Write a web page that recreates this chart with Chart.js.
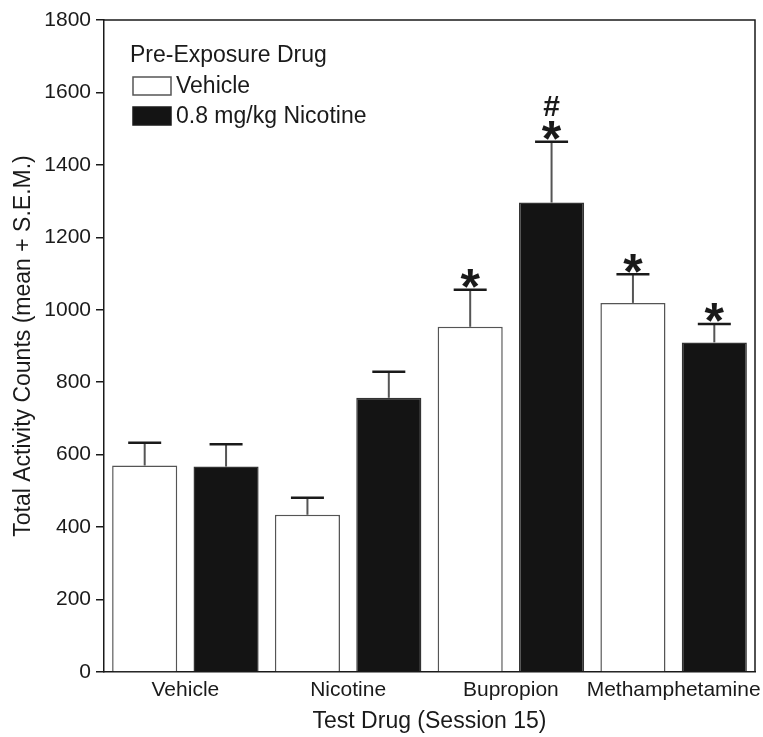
<!DOCTYPE html>
<html>
<head>
<meta charset="utf-8">
<script src="https://cdn.jsdelivr.net/npm/chart.js@4.4.0/dist/chart.umd.min.js"></script>
<style>
  html, body { margin: 0; padding: 0; background: #fff; }
  #wrap { width: 763px; height: 737px; }
</style>
</head>
<body>
<div id="wrap"><canvas id="chart"></canvas></div>
<script>
const CATEGORIES = ["Vehicle", "Nicotine", "Bupropion", "Methamphetamine"];
const SERIES_NAMES = ["Vehicle", "0.8 mg/kg Nicotine"];
const VEHICLE_MEAN = [570, 434, 953, 1019];
const VEHICLE_SEM = [63, 47, 102, 79];
const NICOTINE_MEAN = [567, 757, 1296, 910];
const NICOTINE_SEM = [62, 72, 168, 51];
// significance marks stacked upward above each error cap
const VEHICLE_MARKS = [[], [], ["*"], ["*"]];
const NICOTINE_MARKS = [[], [], ["*", "#"], ["*"]];

const FONT = "'Liberation Sans', Arial, sans-serif";
const INK = "#1a1a1a";
const EDGE = "#555";

// error bars + marks drawn from the data through the y scale
const errorBars = {
  id: "errorBars",
  afterDatasetsDraw(chart) {
    const ctx = chart.ctx;
    const y = chart.scales.y;
    chart.data.datasets.forEach((ds, i) => {
      const meta = chart.getDatasetMeta(i);
      meta.data.forEach((bar, j) => {
        const top = y.getPixelForValue(ds.data[j] + ds.sem[j]);
        ctx.save();
        ctx.strokeStyle = EDGE;
        ctx.lineWidth = 2;
        ctx.beginPath();
        ctx.moveTo(bar.x, bar.y);
        ctx.lineTo(bar.x, top);
        ctx.stroke();
        ctx.strokeStyle = INK;
        ctx.lineWidth = 2.5;
        ctx.beginPath();
        ctx.moveTo(bar.x - 16.5, top);
        ctx.lineTo(bar.x + 16.5, top);
        ctx.stroke();

        let center = top - 11;
        ds.marks[j].forEach((m) => {
          ctx.font = m === "*" ? `bold 50px ${FONT}` : `bold 30px ${FONT}`;
          ctx.fillStyle = INK;
          ctx.textAlign = "center";
          ctx.textBaseline = "alphabetic";
          const tm = ctx.measureText(m);
          const off = (tm.actualBoundingBoxAscent - tm.actualBoundingBoxDescent) / 2;
          ctx.fillText(m, bar.x, center + off);
          center -= 25;
        });
        ctx.restore();
      });
    });
  },
};

// frame (top + right) and the in-plot legend
const frameAndLegend = {
  id: "frameAndLegend",
  afterDraw(chart) {
    const ctx = chart.ctx;
    const a = chart.chartArea;
    ctx.save();
    ctx.strokeStyle = INK;
    ctx.lineWidth = 1.5;
    ctx.beginPath();
    ctx.moveTo(a.left, a.top);
    ctx.lineTo(a.right, a.top);
    ctx.lineTo(a.right, a.bottom);
    ctx.stroke();

    const lx = a.left + 26;
    ctx.fillStyle = INK;
    ctx.textBaseline = "middle";
    ctx.textAlign = "left";
    ctx.font = `23px ${FONT}`;
    ctx.fillText("Pre-Exposure Drug", lx, a.top + 36);

    chart.data.datasets.forEach((ds, i) => {
      const by = a.top + 57 + i * 30;
      ctx.fillStyle = ds.backgroundColor;
      ctx.fillRect(lx + 3, by, 38, 18);
      ctx.strokeStyle = i === 0 ? EDGE : INK;
      ctx.lineWidth = 1.5;
      ctx.strokeRect(lx + 3, by, 38, 18);
      ctx.fillStyle = INK;
      ctx.fillText(ds.label, lx + 46, by + 10);
    });
    ctx.restore();
  },
};

new Chart(document.getElementById("chart"), {
  type: "bar",
  data: {
    labels: CATEGORIES,
    datasets: [
      {
        label: SERIES_NAMES[0],
        data: VEHICLE_MEAN,
        sem: VEHICLE_SEM,
        marks: VEHICLE_MARKS,
        backgroundColor: "#ffffff",
        borderColor: EDGE,
        borderWidth: 1.5,
        categoryPercentage: 1,
        barPercentage: 0.8,
      },
      {
        label: SERIES_NAMES[1],
        data: NICOTINE_MEAN,
        sem: NICOTINE_SEM,
        marks: NICOTINE_MARKS,
        backgroundColor: "#141414",
        borderColor: "#333",
        borderWidth: 1.5,
        categoryPercentage: 1,
        barPercentage: 0.8,
      },
    ],
  },
  options: {
    responsive: true,
    maintainAspectRatio: false,
    animation: false,
    layout: { padding: { top: 20, right: 8, left: 0, bottom: 0 } },
    plugins: {
      legend: { display: false },
      tooltip: { enabled: false },
    },
    scales: {
      x: {
        grid: { display: false, drawTicks: false, tickLength: 0 },
        border: { display: true, color: INK, width: 1.5 },
        ticks: {
          color: INK,
          font: { family: FONT, size: 21 },
          maxRotation: 0,
          minRotation: 0,
          autoSkip: false,
          padding: 6,
        },
        title: {
          display: true,
          text: "Test Drug (Session 15)",
          color: INK,
          font: { family: FONT, size: 23 },
          padding: { top: 4, bottom: 2 },
        },
        afterFit(s) {
          s.height = 65;
          s.paddingLeft = 0;
          s.paddingRight = 0;
        },
      },
      y: {
        min: 0,
        max: 1800,
        ticks: {
          stepSize: 200,
          color: INK,
          font: { family: FONT, size: 21 },
          padding: 5,
          callback: (v) => String(v),
        },
        grid: { drawOnChartArea: false, drawTicks: true, tickLength: 8, color: INK, lineWidth: 1.5 },
        border: { display: true, color: INK, width: 1.5 },
        title: {
          display: true,
          text: "Total Activity Counts (mean + S.E.M.)",
          color: INK,
          font: { family: FONT, size: 23 },
          padding: { top: 10, bottom: 4 },
        },
        afterFit(s) { s.width = 104; },
      },
    },
  },
  plugins: [errorBars, frameAndLegend],
});
</script>
</body>
</html>
